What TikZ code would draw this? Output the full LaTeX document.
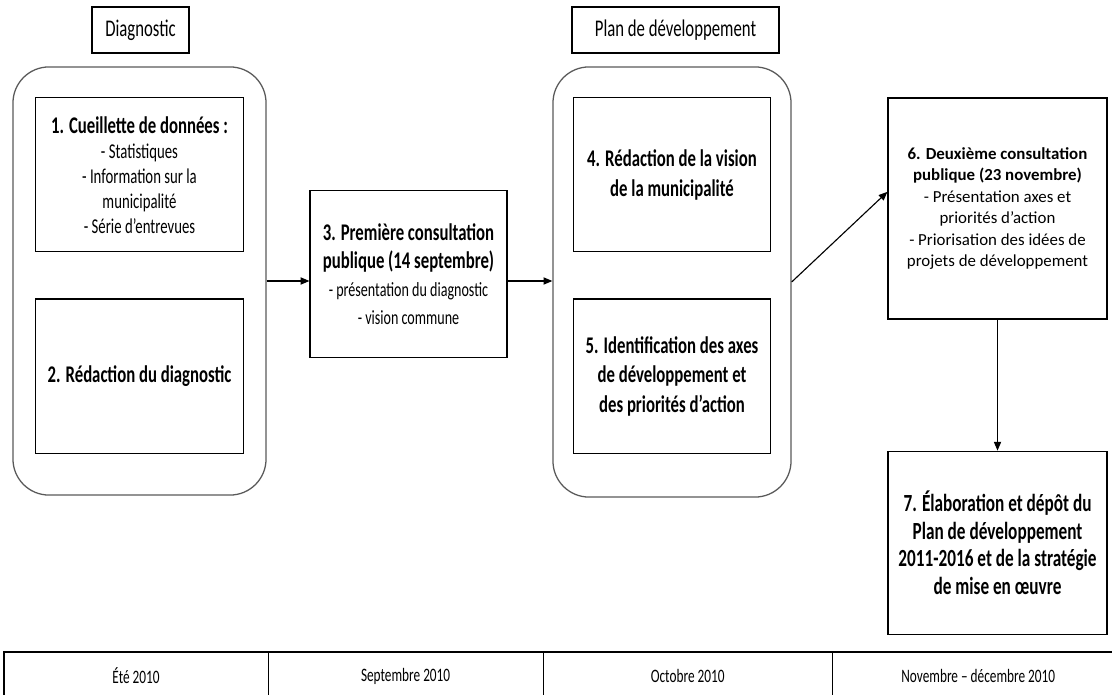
\documentclass[tikz,border=0pt]{standalone}
\usepackage{fontspec}
\setmainfont[FakeStretch=0.7]{Carlito}
\newfontfamily\widefont{Carlito}
\usetikzlibrary{arrows.meta,positioning,calc}

\begin{document}
\begin{tikzpicture}[
    x=0.025cm, y=-0.025cm,
    box/.style={rectangle, draw, line width=0.8pt, align=center, inner sep=2pt},
    phase/.style={box, minimum width=5.2cm, minimum height=3.85cm},
    group/.style={rectangle, draw=black!65, line width=0.9pt, rounded corners=0.9cm},
    title/.style={box, minimum height=1.15cm, font=\fontsize{17}{21}\selectfont},
    big/.style={font=\fontsize{17}{21}\selectfont\bfseries},
    cell/.style={rectangle, draw, line width=0.8pt, outer sep=0pt, minimum height=1.2cm, font=\fontsize{13.5}{16}\selectfont},
    arrow/.style={-{Triangle[length=2.2mm, width=1.8mm]}, line width=0.8pt}
]
    \useasboundingbox (0,0) rectangle (1112,695);

    % Phase headers
    \node[title, minimum width=2.425cm] (diag) at (140.5,30) {Diagnostic};
    \node[title, minimum width=5.175cm] (plan) at (675.5,30) {Plan de développement};

    % Diagnostic
    \node[group, minimum width=6.325cm, minimum height=10.7cm] (grp1) at (139.5,281) {};
    \node[phase, below=0.775cm of grp1.north, font=\fontsize{15}{17.8}\selectfont] (collect)
        {\textbf{\fontsize{17}{18.5}\selectfont 1. Cueillette de données :}\\ - Statistiques\\ - Information sur la\\ municipalité\\ - Série d’entrevues};
    \node[phase, big, below=1.15cm of collect] (draft) {2. Rédaction du diagnostic};

    % First consultation
    \node[box, minimum width=4.925cm, minimum height=4.175cm, font=\fontsize{14.3}{20}\selectfont] (consult1) at (408.5,274)
        {\textbf{\fontsize{17}{21}\selectfont 3. Première consultation}\\ \textbf{\fontsize{17}{21}\selectfont publique (14 septembre)}\\ - présentation du diagnostic\\ - vision commune};

    % Development plan
    \node[group, minimum width=5.95cm, minimum height=10.75cm] (grp2) at (672,282) {};
    \node[phase, big, minimum width=4.925cm, below=0.775cm of grp2.north] (vision)
        {4. Rédaction de la vision\\ de la municipalité};
    \node[phase, big, minimum width=4.925cm, below=1.15cm of vision] (axes)
        {5. Identification des axes\\ de développement et\\ des priorités d’action};

    % Second consultation and final plan
    \node[box, minimum width=5.475cm, minimum height=5.525cm, font=\widefont\fontsize{12}{15.3}\selectfont] (consult2) at (997.5,208.5)
        {\textbf{6. Deuxième consultation}\\ \textbf{publique (23 novembre)}\\ - Présentation axes et\\ priorités d’action\\ - Priorisation des idées de\\ projets de développement};
    \node[box, minimum width=5.475cm, minimum height=4.575cm, font=\fontsize{17.5}{19.5}\selectfont\bfseries, below=3.275cm of consult2] (final)
        {7. Élaboration et dépôt du\\ Plan de développement\\ 2011-2016 et de la stratégie\\ de mise en œuvre};

    % Timeline
    \node[cell, minimum width=6.6cm, anchor=north west] (summer) at (4,652) {Été 2010};
    \node[cell, minimum width=6.875cm, right=0pt of summer] (sept) {Septembre 2010};
    \node[cell, minimum width=7.225cm, right=0pt of sept] (oct) {Octobre 2010};
    \node[cell, minimum width=7.3cm, right=0pt of oct] (novdec) {Novembre – décembre 2010};
    \draw[line width=1.6pt] (summer.north west) -- (novdec.north east);

    % Arrows
    \coordinate (in6) at ($(consult2.north west)!0.425!(consult2.south west)$);
    \draw[arrow] (grp1.east) -- (grp1.east -| consult1.west);
    \draw[arrow] (grp1.east -| consult1.east) -- (grp1.east -| grp2.west);
    \draw[arrow] (grp2.east) -- (in6);
    \draw[arrow] (consult2.south) -- (final.north);
\end{tikzpicture}
\end{document}
